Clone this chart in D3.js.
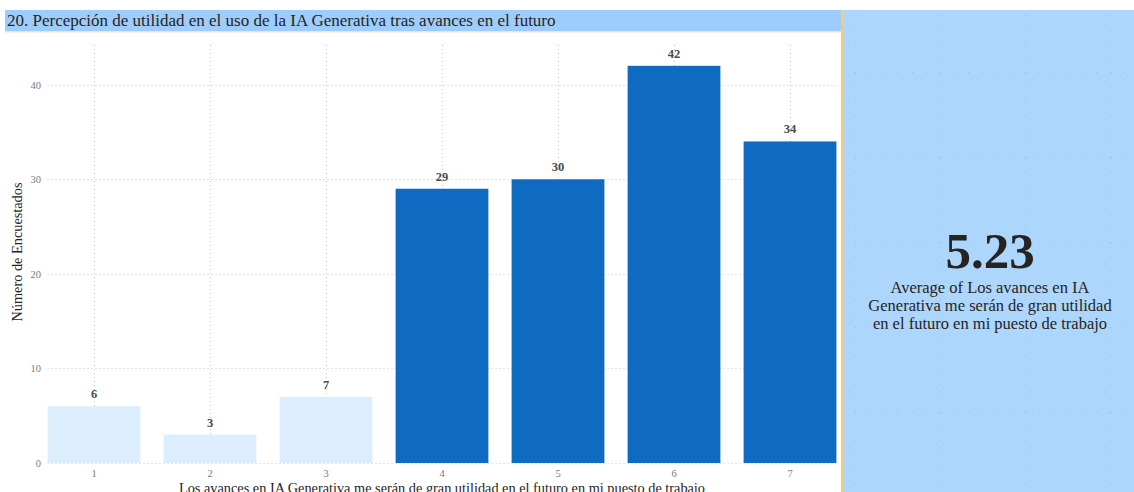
<!DOCTYPE html>
<html>
<head>
<meta charset="utf-8">
<script src="https://cdn.jsdelivr.net/npm/d3@7"></script>
<style>
  html, body { margin: 0; padding: 0; background: #ffffff; }
  svg { display: block; }
</style>
</head>
<body>
<svg id="chart" width="1134" height="492"></svg>
<script>
// Answers on a 1–7 scale and how many respondents chose each one
const categories = ["1", "2", "3", "4", "5", "6", "7"];
const counts = [6, 3, 7, 29, 30, 42, 34];
const groups = ["low", "low", "low", "high", "high", "high", "high"];
const yTicks = [0, 10, 20, 30, 40];

const titleText = "20. Percepción de utilidad en el uso de la IA Generativa tras avances en el futuro";
const yTitle = "Número de Encuestados";
const xTitle = "Los avances en IA Generativa me serán de gran utilidad en el futuro en mi puesto de trabajo";
const cardLines = ["Average of Los avances en IA", "Generativa me serán de gran utilidad", "en el futuro en mi puesto de trabajo"];

const FONT = "'Liberation Serif', 'Times New Roman', serif";
const svg = d3.select("#chart");
const W = 1134, H = 492;

// Card panel on the right, with the canvas dot grid
const panelX = 844;
svg.append("rect").attr("x", panelX).attr("y", 10).attr("width", W - panelX).attr("height", H - 10)
  .attr("fill", "#ADD6FC");

const major = 85, minor = major / 6, gx0 = 5, gy0 = -13;
const dots = [];
for (let gx = gx0; gx < W; gx += major) {
  for (let gy = gy0; gy < H; gy += minor) dots.push([gx, gy]);
}
for (let gy = gy0; gy < H; gy += major) {
  for (let gx = gx0; gx < W; gx += minor) dots.push([gx, gy]);
}
svg.append("g").selectAll("rect").data(dots.filter(d => d[0] > panelX + 2 && d[1] > 12))
  .join("rect")
  .attr("x", d => Math.round(d[0]))
  .attr("y", d => Math.round(d[1]))
  .attr("width", 1.2).attr("height", 1.2)
  .attr("fill", "#8fb7de").attr("opacity", 0.6);

// Separator between chart and card
svg.append("rect").attr("x", 841).attr("y", 10).attr("width", 3).attr("height", H - 10)
  .attr("fill", "#F7CB6F");

// Title band
svg.append("rect").attr("x", 5).attr("y", 10).attr("width", 836).attr("height", 21)
  .attr("fill", "#9FCDFB");
svg.append("rect").attr("x", 5).attr("y", 31).attr("width", 836).attr("height", 1.5)
  .attr("fill", "#FBE3B5");
svg.append("text").attr("x", 7).attr("y", 25.5)
  .attr("font-family", FONT).attr("font-size", 17).attr("fill", "#252423")
  .text(titleText);

// Scales
const x = d3.scaleBand().domain(categories).range([36, 848]).paddingInner(0.2).paddingOuter(0.1);
const y = d3.scaleLinear().domain([0, 44.2]).range([463, 45]);

const gridLeft = x(categories[0]);
const gridRight = x(categories[categories.length - 1]) + x.bandwidth();

// Gridlines
const grid = svg.append("g").attr("stroke", "#c8c8c8").attr("stroke-width", 1)
  .attr("stroke-dasharray", "1,3");
grid.selectAll("line.h").data(yTicks).join("line").attr("class", "h")
  .attr("x1", gridLeft).attr("x2", gridRight)
  .attr("y1", d => Math.round(y(d)) + 0.5).attr("y2", d => Math.round(y(d)) + 0.5);
grid.selectAll("line.v").data(categories).join("line").attr("class", "v")
  .attr("x1", d => Math.round(x(d) + x.bandwidth() / 2) + 0.5)
  .attr("x2", d => Math.round(x(d) + x.bandwidth() / 2) + 0.5)
  .attr("y1", y.range()[1]).attr("y2", y(0));

// Bars
const data = categories.map((c, i) => ({ cat: c, value: counts[i], group: groups[i] }));
const fills = { low: "#DCEDFD", high: "#0F6BC1" };
svg.append("g").selectAll("rect").data(data).join("rect")
  .attr("x", d => x(d.cat))
  .attr("y", d => y(d.value))
  .attr("width", x.bandwidth())
  .attr("height", d => y(0) - y(d.value))
  .attr("fill", d => fills[d.group]);

// Value labels
svg.append("g").selectAll("text").data(data).join("text")
  .attr("x", d => x(d.cat) + x.bandwidth() / 2)
  .attr("y", d => y(d.value) - 8)
  .attr("text-anchor", "middle")
  .attr("font-family", FONT).attr("font-size", 12.5).attr("font-weight", "bold")
  .attr("fill", "#4a4a4a")
  .text(d => d.value);

// Axes (labels only, no domain lines)
const yAxis = svg.append("g").attr("transform", "translate(41,0)")
  .call(d3.axisLeft(y).tickValues(yTicks).tickSize(0).tickPadding(0));
const xAxis = svg.append("g").attr("transform", `translate(0,${y(0)})`)
  .call(d3.axisBottom(x).tickSize(0).tickPadding(6.5));
[yAxis, xAxis].forEach(a => {
  a.select(".domain").remove();
  a.selectAll("text").attr("font-family", FONT).attr("font-size", 10.5).attr("fill", "#7a7a7a");
});

// Axis titles
svg.append("text")
  .attr("transform", "translate(22,252) rotate(-90)")
  .attr("text-anchor", "middle")
  .attr("font-family", FONT).attr("font-size", 14.3).attr("fill", "#252423")
  .text(yTitle);
svg.append("text")
  .attr("x", 442).attr("y", 492.5)
  .attr("text-anchor", "middle")
  .attr("font-family", FONT).attr("font-size", 14.3).attr("fill", "#252423")
  .text(xTitle);

// Card: weighted average of the answers
const total = d3.sum(counts);
const avg = d3.sum(counts, (c, i) => c * (+categories[i])) / total;
const cardX = 990;
svg.append("text").attr("x", cardX).attr("y", 268)
  .attr("text-anchor", "middle")
  .attr("font-family", FONT).attr("font-size", 51).attr("font-weight", "bold")
  .attr("fill", "#252423")
  .text(d3.format(".2f")(avg));
svg.append("g").selectAll("text").data(cardLines).join("text")
  .attr("x", cardX).attr("y", (d, i) => 293 + i * 18.2)
  .attr("text-anchor", "middle")
  .attr("font-family", FONT).attr("font-size", 16.5).attr("fill", "#252423")
  .text(d => d);
</script>
</body>
</html>
